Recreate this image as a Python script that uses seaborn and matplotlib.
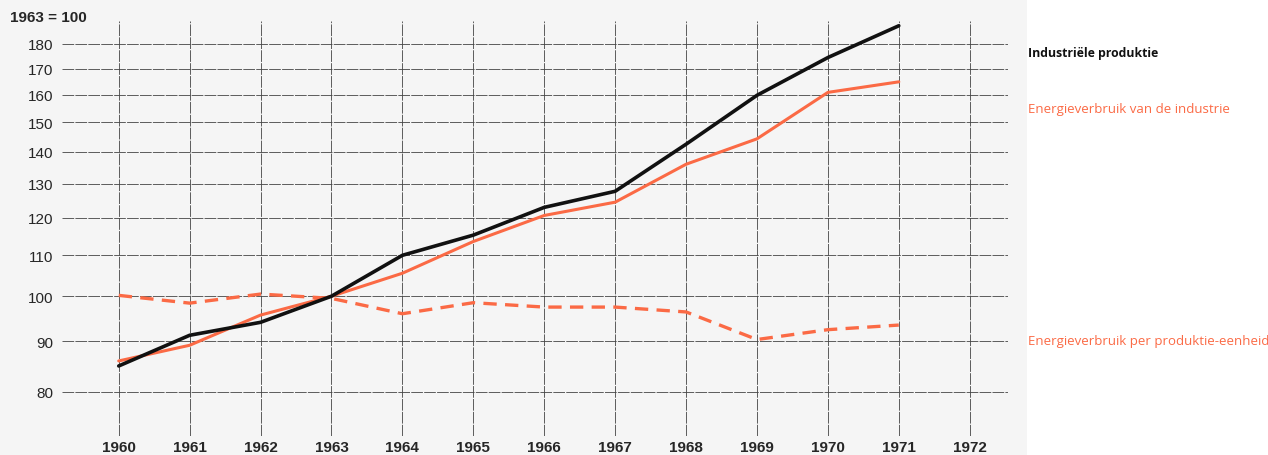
import numpy as np
import pandas as pd
import matplotlib
matplotlib.use("Agg")
import matplotlib.pyplot as plt
from matplotlib.patches import Rectangle
import seaborn as sns

# index 1963 = 100
years = list(range(1960, 1972))
industriele_produktie = [85.0, 91.3, 94.1, 100.0, 110.0, 115.3, 123.0, 127.7, 142.5, 159.7, 174.4, 187.8]
energie_industrie = [86.0, 89.2, 95.7, 100.0, 105.5, 113.6, 120.7, 124.5, 136.0, 144.3, 160.8, 164.8]
energie_per_eenheid = [100.2, 98.4, 100.5, 99.5, 96.0, 98.5, 97.5, 97.5, 96.4, 90.4, 92.5, 93.5]

y_ticks = [80, 90, 100, 110, 120, 130, 140, 150, 160, 170, 180]
x_ticks = list(range(1960, 1973))

ORANGE = "#fb6a45"

df = pd.DataFrame({
    "jaar": years * 3,
    "index": industriele_produktie + energie_industrie + energie_per_eenheid,
    "reeks": ["prod"] * 12 + ["energie"] * 12 + ["per"] * 12,
})

sns.set_style("white")
plt.rcParams["font.family"] = ["Liberation Sans", "DejaVu Sans"]

fig = plt.figure(figsize=(12.68, 4.56), dpi=100, facecolor="white")
fig.patches.append(Rectangle((0, 0), 1027 / 1268, 1, transform=fig.transFigure,
                             facecolor="#f5f5f5", edgecolor="none", zorder=-10))
ax = fig.add_axes([62 / 1268, 1 - 437 / 456, (1008 - 62) / 1268, (437 - 22) / 456])
ax.set_facecolor("none")
ax.set_zorder(2)

ax.set_yscale("log")
ax.set_xlim(1959.2, 1972.54)
ax.set_ylim(72.2, 189.9)

ax.set_yticks(y_ticks)
ax.set_yticklabels([str(v) for v in y_ticks], fontsize=11)
ax.yaxis.set_minor_locator(matplotlib.ticker.NullLocator())
ax.set_xticks(x_ticks)
ax.set_xticklabels([str(v) for v in x_ticks], fontsize=11, fontweight="bold")
ax.tick_params(length=0, pad=6)
ax.tick_params(axis="x", pad=3)

ax.grid(True, color="#444444", linewidth=0.6, linestyle=(0, (14, 1.5)))
for s in ax.spines.values():
    s.set_visible(False)

sns.lineplot(data=df[df.reeks == "prod"], x="jaar", y="index", ax=ax,
             color="#111111", linewidth=2.6, zorder=4)
sns.lineplot(data=df[df.reeks == "energie"], x="jaar", y="index", ax=ax,
             color=ORANGE, linewidth=2.2, zorder=3)
sns.lineplot(data=df[df.reeks == "per"], x="jaar", y="index", ax=ax,
             color=ORANGE, linewidth=2.4, linestyle=(0, (4, 2.5)), zorder=3)
ax.set_xlabel("")
ax.set_ylabel("")

fig.text(10 / 1268, 1 - 18 / 456, "1963 = 100", fontsize=11, fontweight="bold",
         va="center", ha="left")

lab_font = ["Open Sans", "DejaVu Sans"]
fig.text(1028 / 1268, 1 - 53 / 456, "Industriële produktie", fontsize=8.8,
         fontweight="bold", color="#111111", va="center", family=lab_font)
fig.text(1028 / 1268, 1 - 110 / 456, "Energieverbruik van de industrie", fontsize=9.5,
         color=ORANGE, va="center", family=lab_font)
fig.text(1028 / 1268, 1 - 341 / 456, "Energieverbruik per produktie-eenheid", fontsize=9.5,
         color=ORANGE, va="center", family=lab_font)

fig.savefig("out.png", dpi=100, facecolor=fig.get_facecolor())
